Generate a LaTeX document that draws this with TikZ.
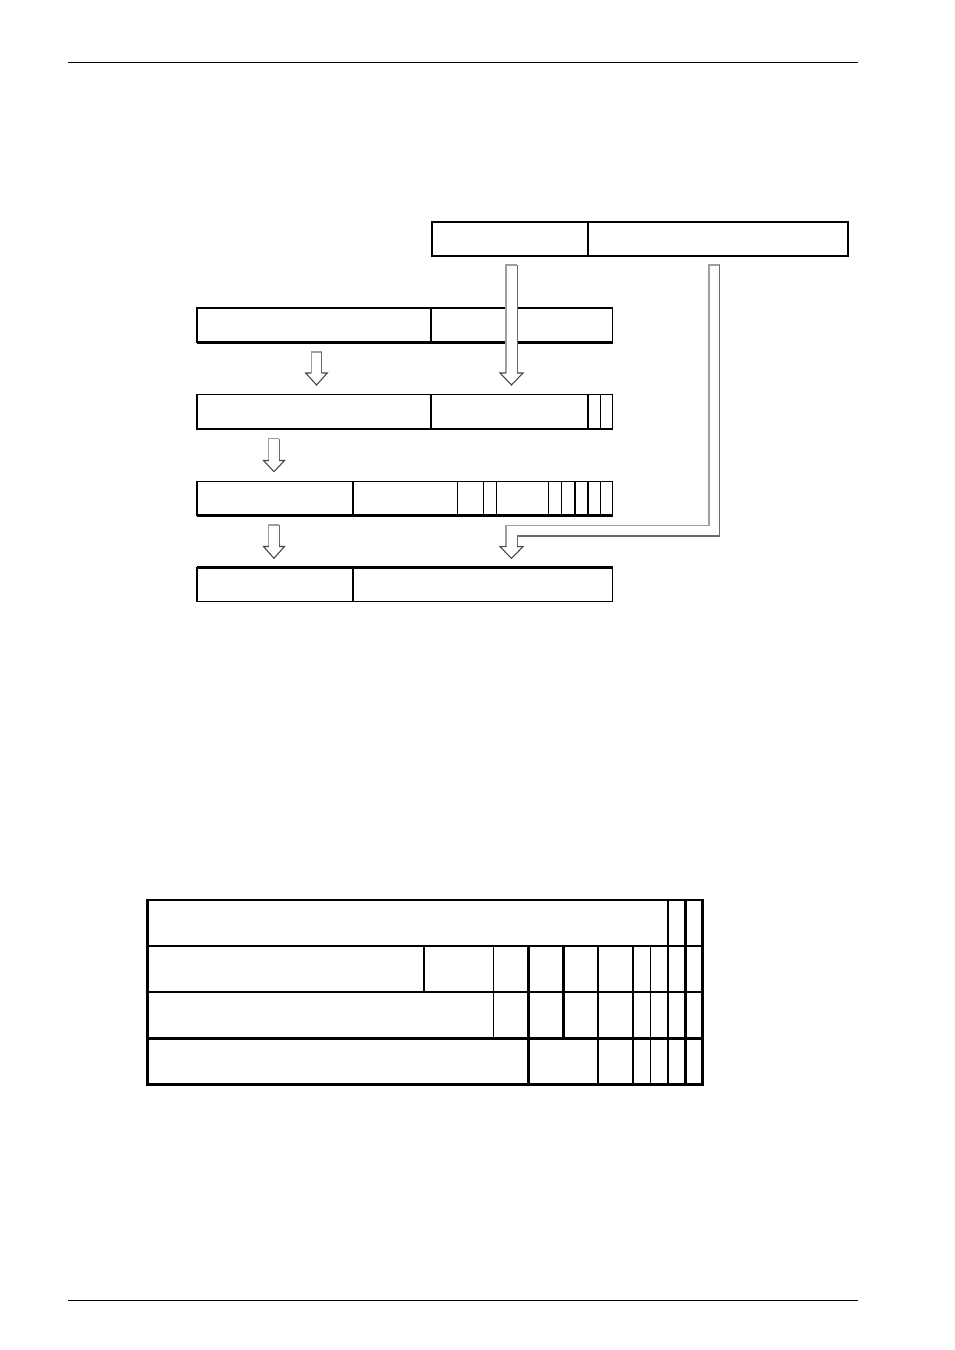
\documentclass[tikz,border=0pt]{standalone}
\usetikzlibrary{calc}
\begin{document}
\begin{tikzpicture}[x=0.75pt,y=-0.75pt,
  thinl/.style={line width=0.8pt,black},
  thickl/.style={line width=1.6pt,black},
  shaftL/.style={line width=0.9pt,color=black!38},
  shaftR/.style={line width=0.9pt,color=black!58},
  headc/.style={line width=0.8pt,color=black!72,line join=miter},
  rule/.style={line width=0.8pt,black}]
\useasboundingbox (0,0) rectangle (954,1350);
\newcommand\blockarr[6]{%
  \fill[white] (#1-#5,#2) -- (#1+#5,#2) -- (#1+#5,#3) -- (#1+#6,#3) -- (#1,#4) -- (#1-#6,#3) -- (#1-#5,#3) -- cycle;
  \draw[shaftL] (#1-#5,#3) -- (#1-#5,#2) -- (#1+#5,#2);
  \draw[shaftR] (#1+#5,#2) -- (#1+#5,#3);
  \draw[headc] (#1-#5,#3) -- (#1-#6,#3) -- (#1,#4) -- (#1+#6,#3) -- (#1+#5,#3);
}
% page rules
\draw[rule] (68,62.3) -- (858,62.3);
\draw[rule] (68,1300.5) -- (858,1300.5);

% top box
\draw[thinl] (432,222) rectangle (848,256);
\draw[thinl] (588,222) -- (588,256);
\draw[thickl] (848,222) -- (848,256);

% row 1
\draw[thinl] (197,308) rectangle (612.5,342.5);
\draw[thickl] (197,308) -- (612.5,308);
\draw[thickl] (197,342.5) -- (612.5,342.5);
\draw[thinl] (431,308) -- (431,342.5);

% row 2
\draw[thinl] (197,394.5) rectangle (612.5,429);
\foreach \x in {431,588,600.5} \draw[thinl] (\x,394.5) -- (\x,429);

% row 3
\draw[thinl] (197,481.5) rectangle (612.5,515.5);
\draw[thickl] (197,515.5) -- (612.5,515.5);
\foreach \x in {353,457.5,483.5,496.5,548.5,561.5,575,588,600.5} \draw[thinl] (\x,481.5) -- (\x,515.5);

% row 4
\draw[thinl] (197,567.5) rectangle (612.5,601.5);
\draw[thickl] (197,567.5) -- (612.5,567.5);
\draw[thinl] (353,567.5) -- (353,601.5);

% arrows
\blockarr{511.5}{265}{373}{385}{5.6}{11.5}
\blockarr{316.5}{352}{373}{385}{5.2}{10.8}
\blockarr{274}{438.5}{460.5}{471.7}{5.2}{10.5}
\blockarr{274}{525}{546.5}{558.3}{5.2}{10.5}
% bent arrow
\fill[white] (709,265) -- (719.7,265) -- (719.7,536) -- (517.1,536) -- (517.1,546.7) -- (523,546.7) -- (511.5,558.3) -- (500,546.7) -- (505.9,546.7) -- (505.9,525.7) -- (709,525.7) -- cycle;
\draw[shaftL] (505.9,546.7) -- (505.9,525.7) -- (709,525.7) -- (709,265) -- (719.7,265);
\draw[shaftR] (719.7,265) -- (719.7,536) -- (517.1,536) -- (517.1,546.7);
\draw[headc] (505.9,546.7) -- (500,546.7) -- (511.5,558.3) -- (523,546.7) -- (517.1,546.7);

% bottom table
\draw[thickl] (147.5,900) rectangle (702.5,1084.5);
\draw[thickl] (147.5,946) -- (702.5,946);
\draw[thinl] (147.5,992) -- (702.5,992);
\draw[thickl] (147.5,1038.5) -- (702.5,1038.5);
% full-height columns
\foreach \x in {668,685.5} \draw[thickl] (\x,900) -- (\x,1084.5);
\draw[thinl] (650.5,946) -- (650.5,1084.5);
\draw[thickl] (633,946) -- (633,1084.5);
\draw[thinl] (598,946) -- (598,1084.5);
\draw[thickl] (528.5,946) -- (528.5,1084.5);
\draw[thickl] (563.5,946) -- (563.5,1038.5);
\draw[thinl] (493.5,946) -- (493.5,1038.5);
\draw[thickl] (424,946) -- (424,992);
\end{tikzpicture}
\end{document}
